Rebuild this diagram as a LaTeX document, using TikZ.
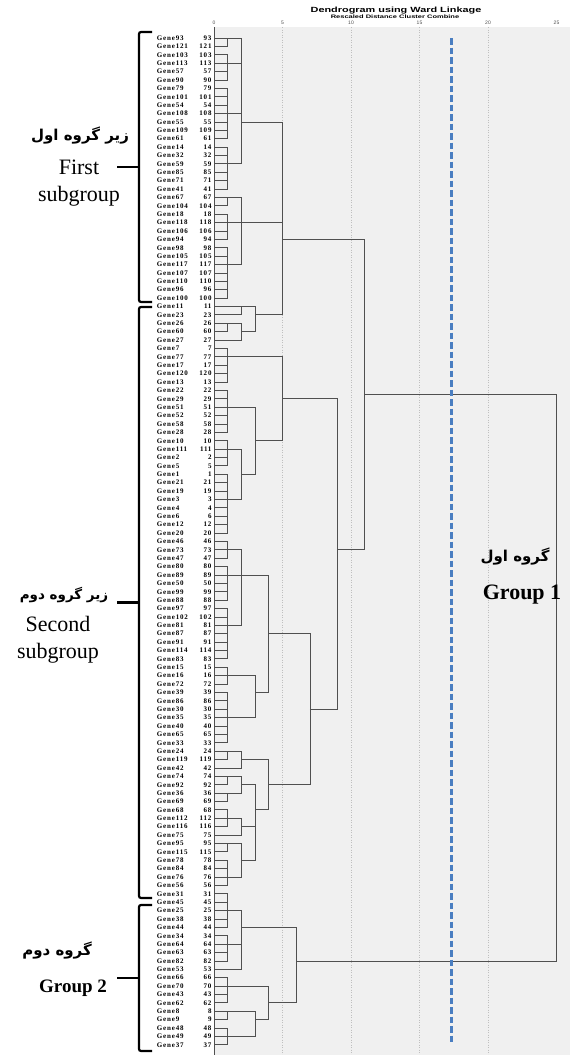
\documentclass[tikz,border=0pt]{standalone}
\usepackage{fontspec}
\setmainfont{Liberation Serif}
\setsansfont{Liberation Sans}
\newfontfamily\farsi[Script=Arabic]{DejaVu Sans}
\newfontfamily\leaffont[LetterSpace=12]{Liberation Serif}
\TeXXeTstate=1
\definecolor{PlotGray}{RGB}{240,240,240}
\definecolor{LinkGray}{RGB}{80,80,80}
\definecolor{CutBlue}{RGB}{74,126,193}
\usetikzlibrary{positioning}

% a merge of named clusters at a level, joined at a row
\newcommand{\clust}[4]{%
  \coordinate (#1) at (#2,#3);
  \foreach \ch in {#4} {\draw[link] (\ch) -| (#1);}}
% a merge of a run of leaves
\newcommand{\leafclust}[5]{%
  \coordinate (#1) at (#2,#3);
  \foreach \lf in {#4,...,#5} {\draw[link] (r\lf) -| (#1);}}

\begin{document}
\begin{tikzpicture}[x=1pt, y=-1pt,
        link/.style={draw=LinkGray, line width=0.8pt},
        leafname/.style={anchor=west, inner sep=0pt, font={\fontsize{7}{7}\leaffont\bfseries}},
        leafnum/.style={anchor=east, inner sep=0pt, font={\fontsize{7}{7}\leaffont\bfseries}},
        tick/.style={inner sep=0pt, text=black!70, font={\sffamily\fontsize{5}{5}\selectfont}},
        gridline/.style={draw=gray!50, dotted, line width=0.5pt},
        brace/.style={line width=2.2pt, rounded corners=2pt},
        fa/.style={inner sep=0pt, font={\farsi\bfseries\fontsize{15}{18}\selectfont}},
        en/.style={inner sep=0pt, align=center, font={\fontsize{22}{27}\selectfont}},
        enbold/.style={inner sep=0pt, font={\bfseries\fontsize{22}{26}\selectfont}}
    ]
    \useasboundingbox (0,0) rectangle (570,1055);
    \fill[PlotGray] (214,27) rectangle (570,1055);
    \foreach \d in {5,10,15,20}
        \draw[gridline] ({214+13.7*\d},27) -- ({214+13.7*\d},1055);
    \draw[LinkGray, line width=0.8pt] (214,27) -- (214,1055);
    % title and scale
    \node[inner sep=0pt, font={\sffamily\bfseries\fontsize{7.5}{8}\selectfont}] (title) at (396,11) {\scalebox{1.45}[1]{Dendrogram using Ward Linkage}};
    \node[inner sep=0pt, font={\sffamily\bfseries\fontsize{5}{5}\selectfont}] (subtitle) at (395,17) {\scalebox{1.5}[1]{Rescaled Distance Cluster Combine}};
    \foreach \d in {0,5,10,15,20,25}
        \node[tick] (t\d) at ({214+13.7*\d},23) {\d};

    \begin{scope}[shift={(214pt,-38pt)}, x=13.7pt, y=-8.39pt]
        \foreach \g [count=\i from 0] in {93,121,103,113,57,90,79,101,54,108,55,109,61,14,32,59,85,71,41,67,104,18,118,106,94,98,105,117,107,110,96,100,
            11,23,26,60,27,7,77,17,120,13,22,29,51,52,58,28,10,111,2,5,1,21,19,3,4,6,12,20,46,73,47,80,89,50,99,88,97,102,81,87,91,114,83,15,16,72,39,86,30,35,40,65,33,24,119,42,74,92,36,69,68,112,116,75,95,115,78,84,76,56,31,
            45,25,38,44,34,64,63,82,53,66,70,43,62,8,9,48,49,37} {
            \coordinate (r\i) at (0,\i);
            \node[leafname, xshift=-57.3pt] (gene\i) at (0,\i) {Gene\g};
            \node[leafnum, xshift=-2.3pt] (num\i) at (0,\i) {\g};
        }
        % first subgroup
        \leafclust{a1}{1}{0}{0}{1}
        \leafclust{a2}{1}{3}{2}{5}
        \leafclust{a3}{1}{9}{6}{12}
        \leafclust{a4}{1}{15}{13}{18}
        \clust{a}{2}{10}{a1,a2,a3,a4}
        \leafclust{b1}{1}{19}{19}{20}
        \leafclust{b2}{1}{22}{21}{24}
        \leafclust{b3}{1}{27}{25}{31}
        \clust{b}{2}{22}{b1,b2,b3}
        \leafclust{c1}{2}{32}{32}{33}
        \leafclust{c2a}{1}{34}{34}{35}
        \clust{c2}{2}{35}{c2a,r36}
        \clust{c}{3}{33}{c1,c2}
        \clust{sub1}{5}{24}{a,b,c}
        % second subgroup
        \leafclust{d1}{1}{38}{37}{41}
        \leafclust{e1}{1}{44}{42}{47}
        \leafclust{e2a}{1}{49}{48}{51}
        \leafclust{e2b}{1}{55}{52}{59}
        \clust{e2}{2}{52}{e2a,e2b}
        \clust{e}{3}{48}{e1,e2}
        \clust{de}{5}{43}{d1,e}
        \leafclust{f1}{1}{61}{60}{62}
        \leafclust{f2}{1}{64}{63}{67}
        \leafclust{f3}{1}{70}{68}{74}
        \clust{f}{2}{64}{f1,f2,f3}
        \leafclust{g1}{1}{76}{75}{77}
        \leafclust{g2}{1}{81}{78}{84}
        \clust{g}{3}{78}{g1,g2}
        \clust{fg}{4}{71}{f,g}
        \leafclust{h1a}{1}{85}{85}{86}
        \clust{h1}{2}{86}{h1a,r87}
        \leafclust{h2a}{1}{88}{88}{89}
        \leafclust{h2b}{1}{90}{90}{91}
        \clust{h2}{2}{89}{h2a,h2b}
        \leafclust{h3a}{1}{93}{92}{94}
        \clust{h3}{2}{94}{h3a,r95}
        \leafclust{h4a}{1}{96}{96}{97}
        \leafclust{h4b}{1}{100}{98}{101}
        \clust{h4}{2}{98}{h4a,h4b}
        \clust{h5}{3}{92}{h2,h3,h4}
        \clust{h}{4}{89}{h1,h5}
        \clust{fgh}{7}{80}{fg,h}
        \clust{sub2}{9}{61}{de,fgh}
        \clust{grp1}{11}{42.5}{sub1,sub2}
        % group 2
        \leafclust{k1}{1}{104}{102}{106}
        \leafclust{k2}{1}{108}{107}{110}
        \clust{k}{2}{106}{k1,k2,r111}
        \leafclust{l1}{1}{113}{112}{115}
        \leafclust{l2a}{1}{116}{116}{117}
        \leafclust{l2b}{1}{119}{118}{120}
        \clust{l2}{3}{117}{l2a,l2b}
        \clust{l}{4}{115}{l1,l2}
        \clust{grp2}{6}{110}{k,l}
        \clust{all}{25}{76.25}{grp1,grp2}
        % cut line
        \coordinate (cuttop) at (17.37,0);
        \coordinate (cutbot) at (17.37,120);
        \draw[CutBlue, line width=3pt, dash pattern=on 6.5pt off 3pt] (cuttop) -- (cutbot);
    \end{scope}

    % brackets
    \draw[brace] (152,32) -- (139,32) -- (139,302) -- (152,302);
    \draw[brace] (117,167) -- (139,167);
    \draw[brace] (152,307) -- (139,307) -- (139,898) -- (152,898);
    \draw[brace] (117,602.5) -- (139,602.5);
    \draw[brace] (152,905) -- (139,905) -- (139,1051) -- (152,1051);
    \draw[brace] (117,978) -- (139,978);

    % labels
    \node[fa] (sub1fa) at (80,136) {\beginR زیر گروه اول\endR};
    \node[en] (sub1en) at (79,183.5) {First\\subgroup};
    \node[fa, font={\farsi\bfseries\fontsize{13.5}{16}\selectfont}] (sub2fa) at (64,595) {\beginR زیر گروه دوم\endR};
    \node[en] (sub2en) at (58,640) {Second\\subgroup};
    \node[fa] (grp1fa) at (515,557) {\beginR گروه اول\endR};
    \node[enbold] (grp1en) at (522,595) {Group 1};
    \node[fa] (grp2fa) at (57,950) {\beginR گروه دوم\endR};
    \node[enbold, font={\bfseries\fontsize{19}{22}\selectfont}] (grp2en) at (73,988) {Group 2};
\end{tikzpicture}
\end{document}
